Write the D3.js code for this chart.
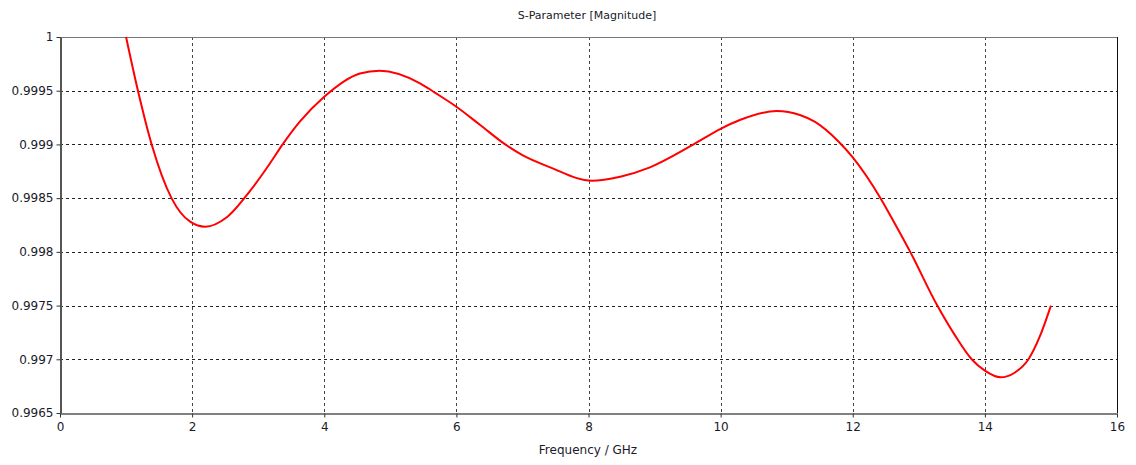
<!DOCTYPE html>
<html><head><meta charset="utf-8">
<script src="https://cdn.jsdelivr.net/npm/d3@7"></script>
<style>body{margin:0;background:#fff}svg{display:block}text{font-family:"DejaVu Sans",sans-serif;fill:#1a1a2a}</style>
</head><body>
<svg id="c" width="1136" height="465"></svg>
<script>
const freq = [1.0,1.18,1.39,1.69,1.97,2.2,2.52,2.88,3.18,3.37,3.63,4.0,4.54,4.84,5.45,5.68,6.0,6.36,6.74,7.0,7.42,8.05,8.48,8.93,9.59,10.0,10.29,10.85,11.2,11.43,11.78,12.0,12.42,12.64,12.87,13.28,13.55,13.8,14.0,14.24,14.45,14.66,14.83,15.0];
const mag = [1.0,0.9995,0.998995,0.998498,0.998281,0.998234,0.99832,0.99857,0.998825,0.999,0.999212,0.999444,0.99966,0.999686,0.999569,0.99948,0.999351,0.999181,0.999,0.99890,0.998787,0.998662,0.9987,0.998787,0.999,0.999145,0.999227,0.999311,0.999274,0.99921,0.99903,0.99888,0.9985,0.99826,0.998,0.9975,0.99722,0.997,0.996894,0.996832,0.996875,0.997,0.99721,0.9975];
const xTicks = [0,2,4,6,8,10,12,14,16];
const yTicks = [0.9965,0.997,0.9975,0.998,0.9985,0.999,0.9995,1];
const yLabels = ["0.9965","0.997","0.9975","0.998","0.9985","0.999","0.9995","1"];
const titleText = "S-Parameter [Magnitude]";
const xTitle = "Frequency / GHz";

const L=60,R=1117,T=37,B=413;
const svg=d3.select("#c");
const x=d3.scaleLinear().domain([0,16]).range([L,R]);
const y=d3.scaleLinear().domain([0.9965,1]).range([B,T]);

// grid
svg.append("g").selectAll("line").data(xTicks.slice(1,-1)).join("line")
 .attr("x1",d=>Math.round(x(d))+0.5).attr("x2",d=>Math.round(x(d))+0.5).attr("y1",T).attr("y2",B)
 .attr("stroke","#444").attr("stroke-dasharray","3,3");
svg.append("g").selectAll("line").data(yTicks.slice(1,-1)).join("line")
 .attr("y1",d=>Math.round(y(d))+0.5).attr("y2",d=>Math.round(y(d))+0.5).attr("x1",L).attr("x2",R)
 .attr("stroke","#222").attr("stroke-dasharray","3,3");

// frame
svg.append("line").attr("x1",L).attr("x2",R).attr("y1",T+0.5).attr("y2",T+0.5).attr("stroke","#777");
svg.append("line").attr("x1",R+0.5).attr("x2",R+0.5).attr("y1",T).attr("y2",B).attr("stroke","#111");

// axes
const xa=d3.axisBottom(x).tickValues(xTicks).tickFormat(d3.format("d")).tickSize(4).tickSizeOuter(0);
const gx=svg.append("g").attr("transform",`translate(0,${B+0.5})`).call(xa);
gx.select(".domain").attr("stroke","#808080").attr("stroke-width",2);
gx.selectAll(".tick line").attr("stroke","#333");
gx.selectAll(".tick text").attr("dy","0.9em").style("font-size","12px").style("font-family","DejaVu Sans");
const ya=d3.axisLeft(y).tickValues(yTicks).tickFormat((d,i)=>yLabels[i]).tickSize(4).tickSizeOuter(0);
const gy=svg.append("g").attr("transform",`translate(${L+0.5},0)`).call(ya);
gy.select(".domain").attr("stroke","#555").attr("stroke-width",2);
gy.selectAll(".tick line").attr("stroke","#333");
gy.selectAll(".tick text").attr("x",-7).style("font-size","12px").style("font-family","DejaVu Sans");

// curve
const line=d3.line().x((d,i)=>x(freq[i])).y(d=>y(d)).curve(d3.curveMonotoneX);
svg.append("path").datum(mag).attr("d",line).attr("fill","none").attr("stroke","#ff0000").attr("stroke-width",2);

svg.append("text").attr("x",587).attr("y",19).attr("text-anchor","middle").style("font-size","11px").text(titleText);
svg.append("text").attr("x",588).attr("y",454).attr("text-anchor","middle").style("font-size","12px").text(xTitle);
</script>
</body></html>
